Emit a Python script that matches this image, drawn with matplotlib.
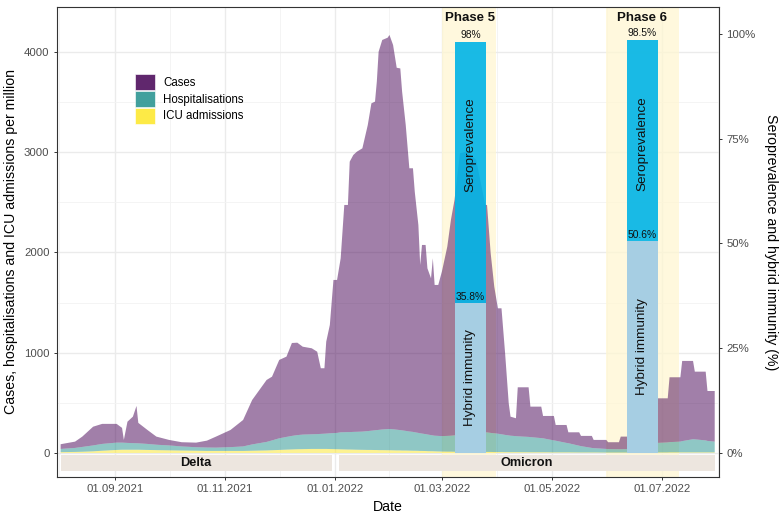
import numpy as np
import pandas as pd
import matplotlib
matplotlib.use('Agg')
import matplotlib.pyplot as plt
import matplotlib.dates as mdates
from matplotlib.patches import Patch
from matplotlib.ticker import FixedLocator, FuncFormatter

plt.rcParams['font.family'] = ['Liberation Sans', 'DejaVu Sans']

# daily-ish readings, per million (stacked: icu bottom, hosp, cases on top)
dates = ["2021-08-02", "2021-08-10", "2021-08-14", "2021-08-20", "2021-08-25",
         "2021-09-02", "2021-09-05", "2021-09-06", "2021-09-08", "2021-09-11",
         "2021-09-13", "2021-09-14", "2021-09-19", "2021-09-24",
         "2021-10-01", "2021-10-08", "2021-10-16", "2021-10-22", "2021-10-27",
         "2021-11-04", "2021-11-11", "2021-11-16", "2021-11-24", "2021-11-27",
         "2021-12-01", "2021-12-05", "2021-12-08", "2021-12-11", "2021-12-14",
         "2021-12-19", "2021-12-22", "2021-12-24", "2021-12-26", "2021-12-27",
         "2021-12-29", "2021-12-31",
         "2022-01-02", "2022-01-04", "2022-01-06", "2022-01-08", "2022-01-09",
         "2022-01-11", "2022-01-13", "2022-01-16", "2022-01-19", "2022-01-21",
         "2022-01-23", "2022-01-24", "2022-01-25", "2022-01-27", "2022-01-30",
         "2022-01-31",
         "2022-02-02", "2022-02-04", "2022-02-06", "2022-02-07", "2022-02-09",
         "2022-02-11", "2022-02-13", "2022-02-14", "2022-02-16", "2022-02-17",
         "2022-02-18", "2022-02-20", "2022-02-21", "2022-02-23", "2022-02-24",
         "2022-02-25", "2022-02-27",
         "2022-03-01", "2022-03-04", "2022-03-06", "2022-03-08", "2022-03-11",
         "2022-03-15", "2022-03-20", "2022-03-25", "2022-03-26", "2022-03-28",
         "2022-03-30",
         "2022-04-01", "2022-04-03", "2022-04-05", "2022-04-07", "2022-04-08",
         "2022-04-11", "2022-04-12", "2022-04-18", "2022-04-19", "2022-04-25",
         "2022-04-26",
         "2022-05-02", "2022-05-03", "2022-05-09", "2022-05-10", "2022-05-16",
         "2022-05-17", "2022-05-23", "2022-05-24", "2022-05-31",
         "2022-06-01", "2022-06-07", "2022-06-08", "2022-06-14", "2022-06-15",
         "2022-06-21", "2022-06-22",
         "2022-07-04", "2022-07-05", "2022-07-11", "2022-07-12", "2022-07-18",
         "2022-07-19", "2022-07-25", "2022-07-26", "2022-07-30"]

cases = [47, 63, 103, 187, 200,
         187, 147, 28, 212, 264, 372, 204, 140, 81,
         55, 42, 46, 69, 110,
         171, 264, 443, 618, 636,
         782, 801, 927, 922, 877, 858, 822, 655, 653, 917, 1081, 1528,
         1526, 1736, 2267, 2266, 2698, 2763, 2795, 2826, 3054, 3266,
         3279, 3476, 3773, 3886, 3905, 3931,
         3834, 3611, 3608, 3379, 3052, 2626, 2630, 2400, 2074, 1679,
         1882, 1887, 1658, 1564, 1767, 1504, 1506,
         1640, 1888, 2152, 2349, 2805, 2811, 2720, 2269, 2269, 1795, 1463,
         1251, 1257, 814, 321, 190, 178, 489, 495, 304, 314, 223,
         244, 157, 179, 109, 134, 102, 120, 82, 90,
         68, 70, 126, 123, 240, 220, 450,
         440, 647, 642, 800, 781, 675, 686, 498, 505]

hosp = [32, 40, 48, 59, 68,
        73, 71, 70, 68, 66, 65, 64, 60, 54,
        49, 41, 35, 34, 33,
        38, 45, 63, 85, 98,
        116, 127, 135, 141, 145, 146, 148, 150, 152, 153, 157, 160,
        163, 170, 172, 174, 174, 177, 179, 182, 188, 192,
        197, 199, 202, 206, 211, 212,
        210, 207, 203, 201, 196, 191, 188, 184, 179, 176,
        173, 169, 166, 161, 158, 156, 155,
        154, 157, 159, 163, 173, 184, 192, 195, 195, 190, 187,
        183, 177, 172, 167, 164, 160, 158, 153, 151, 141, 139,
        119, 116, 94, 91, 67, 63, 45, 43, 36,
        35, 33, 33, 36, 55, 75, 90,
        100, 102, 107, 112, 131, 130, 119, 114, 107]

icu = [8, 10, 12, 16, 22,
       30, 32, 32, 32, 32, 32, 32, 30, 28,
       26, 24, 22, 20, 20,
       20, 20, 22, 25, 27,
       30, 33, 35, 37, 38, 40, 40, 40, 40, 40, 39, 38,
       37, 36, 35, 34, 34, 33, 32, 31, 30, 30,
       29, 29, 28, 28, 27, 27,
       26, 25, 25, 24, 24, 23, 22, 22, 21, 20,
       20, 19, 18, 17, 17, 16, 15,
       14, 13, 13, 12, 12, 11, 11, 10, 10, 10, 9,
       9, 9, 8, 8, 8, 8, 8, 7, 7, 7, 7,
       6, 6, 6, 6, 5, 5, 5, 5, 4,
       4, 4, 4, 4, 5, 5, 5,
       5, 6, 6, 6, 6, 6, 6, 6, 6]

# serosurvey phases
phase_names = ["Phase 5", "Phase 6"]
phase_start = ["2022-03-01", "2022-05-31"]
phase_end = ["2022-03-31", "2022-07-10"]
survey_mid = ["2022-03-16 18:00", "2022-06-20 00:00"]
seroprev = [98.0, 98.5]
hybrid = [35.8, 50.6]

# variant periods
variants = ["Delta", "Omicron"]
var_start = ["2021-08-02", "2022-01-03"]
var_end = ["2021-12-30", "2022-07-30"]

SCALE = 41.8  # cases per million per percent (secondary axis)

col_cases = '#440154'
col_hosp = '#21908C'
col_icu = '#FDE725'

fig = plt.figure(figsize=(7.8, 5.2), dpi=100)
ax = fig.add_axes([57 / 780, 1 - 477 / 520, 662 / 780, 470 / 520])

x = mdates.date2num(pd.to_datetime(dates))
ax.stackplot(x, icu, hosp, cases, colors=[col_icu, col_hosp, col_cases],
             alpha=0.5, linewidth=0, zorder=2)

for s, e in zip(phase_start, phase_end):
    ax.axvspan(mdates.date2num(pd.Timestamp(s)), mdates.date2num(pd.Timestamp(e)),
               color='#FFF6D2', alpha=0.75, lw=0, zorder=1)

vs = mdates.date2num(pd.to_datetime(var_start))
ve = mdates.date2num(pd.to_datetime(var_end))
ax.bar(vs, -160, bottom=-20, width=ve - vs, align='edge', color='#EDE6DF',
       lw=0, zorder=2)
for name, s, e in zip(variants, vs, ve):
    ax.text((s + e) / 2, -100, name, ha='center', va='center',
            fontsize=9.2, fontweight='bold', color='#111111', zorder=3)

pm = mdates.date2num(pd.to_datetime(survey_mid))
for name, m in zip(phase_names, pm):
    ax.text(m, 4340, name, ha='center', va='center', fontsize=9.5,
            fontweight='bold', color='#111111', zorder=3)

ax.set_xlim(mdates.date2num(pd.Timestamp("2021-07-31")),
            mdates.date2num(pd.Timestamp("2022-08-01 09:00")))
ax.set_ylim(-240, 4449)

majors = pd.to_datetime(["2021-07-01", "2021-09-01", "2021-11-01", "2022-01-01",
                         "2022-03-01", "2022-05-01", "2022-07-01", "2022-09-01"])
mj = mdates.date2num(majors)
ax.set_xticks(mj[1:-1])
ax.xaxis.set_major_formatter(mdates.DateFormatter('%d.%m.%Y'))
ax.xaxis.set_minor_locator(FixedLocator((mj[:-1] + mj[1:]) / 2))
ax.set_yticks([0, 1000, 2000, 3000, 4000])
ax.yaxis.set_minor_locator(FixedLocator([500, 1500, 2500, 3500]))

ax.set_axisbelow(True)
ax.grid(which='major', color='#EBEBEB', linewidth=1.0)
ax.grid(which='minor', color='#F3F3F3', linewidth=0.6)
ax.tick_params(which='major', length=2.4, width=0.7, color='#333333',
               labelsize=8.2, labelcolor='#4D4D4D', pad=3)
ax.tick_params(which='minor', length=0)
for sp in ax.spines.values():
    sp.set_color('#333333')
    sp.set_linewidth(0.8)

ax.set_xlabel('Date', fontsize=10.2, labelpad=4)
ax.set_ylabel('Cases, hospitalisations and ICU admissions per million',
              fontsize=10.2, labelpad=4)

# secondary axis: seroprevalence bars
ax2 = ax.twinx()
ax2.set_ylim(-240 / SCALE, 4449 / SCALE)
ax2.set_yticks([0, 25, 50, 75, 100])
ax2.yaxis.set_major_formatter(FuncFormatter(lambda v, p: f"{v:.0f}%"))
ax2.tick_params(length=2.4, width=0.7, color='#333333', labelsize=8.2,
                labelcolor='#4D4D4D', pad=3)
for sp in ax2.spines.values():
    sp.set_visible(False)
ax2.set_ylabel('Seroprevalence and hybrid immunity (%)', fontsize=10.2,
               rotation=270, va='bottom', labelpad=6)

bw = 17
ax2.bar(pm, seroprev, width=bw, color='#00B4E6', alpha=0.9, lw=0, zorder=3)
ax2.bar(pm, hybrid, width=bw, color='#A6CEE3', lw=0, zorder=4)
for m, s, h in zip(pm, seroprev, hybrid):
    ax2.annotate(f"{s:g}%", (m, s), xytext=(0, 1.5), textcoords='offset points',
                 ha='center', va='bottom', fontsize=7.4, color='#111111', zorder=5)
    ax2.annotate(f"{h:g}%", (m, h), xytext=(0, 0.5), textcoords='offset points',
                 ha='center', va='bottom', fontsize=7.4, color='#111111', zorder=5)
    ax2.text(m, 0.75 * s, 'Seroprevalence', rotation=90, ha='center',
             va='center', fontsize=9.7, color='#111111', zorder=5)
    ax2.text(m, h / 2, 'Hybrid immunity', rotation=90, ha='center',
             va='center', fontsize=9.7, color='#111111', zorder=5)

handles = [Patch(facecolor=col_cases, alpha=0.85, edgecolor='white', lw=0.5),
           Patch(facecolor=col_hosp, alpha=0.85, edgecolor='white', lw=0.5),
           Patch(facecolor=col_icu, alpha=0.85, edgecolor='white', lw=0.5)]
ax2.legend(handles, ['Cases', 'Hospitalisations', 'ICU admissions'],
           loc='upper left', bbox_to_anchor=(0.118, 0.857), frameon=False,
           fontsize=8.3, handlelength=1.75, handleheight=1.78,
           labelspacing=0.05, handletextpad=0.7, borderpad=0, borderaxespad=0)

fig.savefig('out.png', dpi=100)
